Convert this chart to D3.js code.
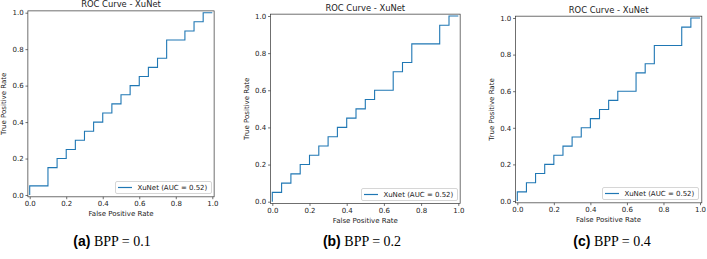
<!DOCTYPE html>
<html>
<head>
<meta charset="utf-8">
<script src="https://cdn.jsdelivr.net/npm/d3@7"></script>
<style>
  body { margin: 0; background: #fff; }
  svg text { font-family: "DejaVu Sans", sans-serif; fill: #222; }
</style>
</head>
<body>
<div id="chart"></div>
<script>
// ROC points (corners of the step curve)
const fprA = [0,0,0.1,0.1,0.15,0.15,0.2,0.2,0.25,0.25,0.3,0.3,0.35,0.35,0.4,0.4,0.45,0.45,0.5,0.5,0.55,0.55,0.6,0.6,0.65,0.65,0.7,0.7,0.75,0.75,0.85,0.85,0.9,0.9,0.95,0.95,1];
const tprA = [0,0.05,0.05,0.15,0.15,0.2,0.2,0.25,0.25,0.3,0.3,0.35,0.35,0.4,0.4,0.45,0.45,0.5,0.5,0.55,0.55,0.6,0.6,0.65,0.65,0.7,0.7,0.75,0.75,0.85,0.85,0.9,0.9,0.95,0.95,1,1];

const fprB = [0,0,0.05,0.05,0.1,0.1,0.15,0.15,0.2,0.2,0.25,0.25,0.3,0.3,0.35,0.35,0.4,0.4,0.45,0.45,0.5,0.5,0.55,0.55,0.65,0.65,0.7,0.7,0.75,0.75,0.9,0.9,0.95,0.95,1];
const tprB = [0,0.05,0.05,0.1,0.1,0.15,0.15,0.2,0.2,0.25,0.25,0.3,0.3,0.35,0.35,0.4,0.4,0.45,0.45,0.5,0.5,0.55,0.55,0.6,0.6,0.7,0.7,0.75,0.75,0.85,0.85,0.95,0.95,1,1];

const fprC = [0,0,0.05,0.05,0.1,0.1,0.15,0.15,0.2,0.2,0.25,0.25,0.3,0.3,0.35,0.35,0.4,0.4,0.45,0.45,0.5,0.5,0.55,0.55,0.65,0.65,0.7,0.7,0.75,0.75,0.9,0.9,0.95,0.95,1];
const tprC = [0,0.05,0.05,0.1,0.1,0.15,0.15,0.2,0.2,0.25,0.25,0.3,0.3,0.35,0.35,0.4,0.4,0.45,0.45,0.5,0.5,0.55,0.55,0.6,0.6,0.7,0.7,0.75,0.75,0.85,0.85,0.95,0.95,1,1];

const tickValues = [0, 0.2, 0.4, 0.6, 0.8, 1.0];
const title = "ROC Curve - XuNet";
const legendLabel = "XuNet (AUC = 0.52)";
const captionTags = ["(a)", "(b)", "(c)"];
const captionTexts = ["BPP = 0.1", "BPP = 0.2", "BPP = 0.4"];

const W = 707, H = 259;
const svg = d3.select("#chart").append("svg")
  .attr("width", W).attr("height", H);

// pixel placement of data 0 and 1 on each panel
const panels = [
  { fpr: fprA, tpr: tprA, x: [29.7, 212.3], y: [195, 12.7], cap: 112 },
  { fpr: fprB, tpr: tprB, x: [272.3, 458.3], y: [201.7, 16], cap: 362 },
  { fpr: fprC, tpr: tprC, x: [517.3, 700], y: [201, 18], cap: 612 }
];

const fontTick = 7, fontTitle = 8.4;

panels.forEach((p, k) => {
  const x = d3.scaleLinear().domain([0, 1]).range(p.x);
  const y = d3.scaleLinear().domain([0, 1]).range(p.y);
  const left = x(-0.01), right = x(1.01), top = y(1.01), bottom = y(-0.01);
  const g = svg.append("g");

  // axes
  const xAxis = g.append("g")
    .attr("transform", `translate(0,${bottom})`)
    .call(d3.axisBottom(x).tickValues(tickValues).tickFormat(d3.format(".1f"))
      .tickSize(2.4).tickPadding(1.8));
  const yAxis = g.append("g")
    .attr("transform", `translate(${left},0)`)
    .call(d3.axisLeft(y).tickValues(tickValues).tickFormat(d3.format(".1f"))
      .tickSize(2.4).tickPadding(1.8));
  [xAxis, yAxis].forEach(a => {
    a.select(".domain").remove();
    a.selectAll("line").attr("stroke", "#333").attr("stroke-width", 0.7);
    a.selectAll("text").style("font-size", fontTick + "px")
      .style("font-family", "DejaVu Sans").attr("fill", "#222");
  });

  // curve
  const pts = p.fpr.map((f, i) => [f, p.tpr[i]]);
  g.append("path")
    .datum(pts)
    .attr("fill", "none")
    .attr("stroke", "#1f77b4")
    .attr("stroke-width", 1.1)
    .attr("d", d3.line().x(d => x(d[0])).y(d => y(d[1])));

  // frame
  g.append("rect")
    .attr("x", left).attr("y", top)
    .attr("width", right - left).attr("height", bottom - top)
    .attr("fill", "none").attr("stroke", "#333").attr("stroke-width", 0.7);

  // title and axis labels
  g.append("text")
    .attr("x", (left + right) / 2).attr("y", top - 3.6)
    .attr("text-anchor", "middle")
    .style("font-size", fontTitle + "px")
    .text(title);
  g.append("text")
    .attr("x", (left + right) / 2).attr("y", bottom + 19)
    .attr("text-anchor", "middle")
    .style("font-size", fontTick + "px")
    .text("False Positive Rate");
  g.append("text")
    .attr("transform", `translate(${left - 21.5},${(top + bottom) / 2}) rotate(-90)`)
    .attr("text-anchor", "middle")
    .style("font-size", fontTick + "px")
    .text("True Positive Rate");

  // legend (lower right)
  const lw = 96, lh = 12;
  const lx = Math.round(right - 3.5 - lw), ly = Math.round(bottom - 3.5 - lh);
  const lg = g.append("g").attr("transform", `translate(${lx},${ly})`);
  lg.append("rect")
    .attr("x", 0.5).attr("y", 0.5)
    .attr("width", lw).attr("height", lh).attr("rx", 1.5)
    .attr("fill", "#fff").attr("fill-opacity", 0.8)
    .attr("stroke", "#ccc").attr("stroke-width", 0.8);
  lg.append("path")
    .attr("d", `M3,6.5H17`)
    .attr("fill", "none")
    .attr("stroke", "#1f77b4").attr("stroke-width", 1.2);
  lg.append("text")
    .attr("x", 22.4).attr("y", 9)
    .style("font-size", fontTick + "px")
    .text(legendLabel);

  // caption
  const cap = svg.append("text")
    .attr("x", p.cap).attr("y", 246)
    .attr("text-anchor", "middle")
    .style("font-size", "14px");
  cap.append("tspan")
    .style("font-family", "'Liberation Sans', Arial, sans-serif")
    .style("font-weight", "bold")
    .attr("fill", "#000").text(captionTags[k]);
  cap.append("tspan")
    .style("font-family", "'Liberation Serif', 'Times New Roman', serif")
    .attr("fill", "#000").text(" " + captionTexts[k]);
});
</script>
</body>
</html>
